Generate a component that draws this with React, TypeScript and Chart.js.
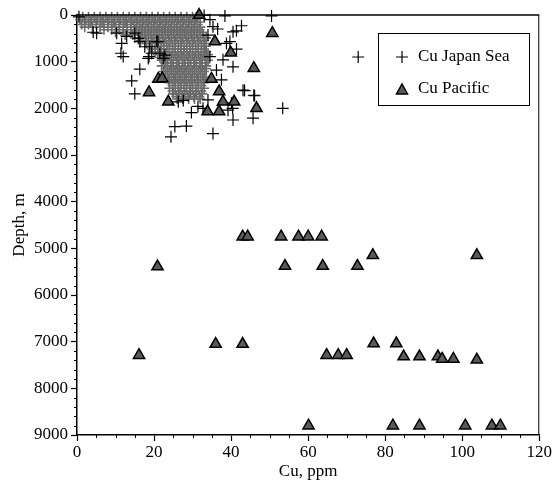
import React, { useEffect, useRef } from 'react';
import { Chart, registerables } from 'chart.js';
Chart.register(...registerables);

// Cu Pacific: [Cu ppm, depth m]
const pacificCu = [31.7, 50.7, 35.8, 39.9, 45.9, 21.1, 22.1, 34.9, 18.7, 36.9, 23.7, 37.9, 40.8, 33.9, 36.9, 46.6,
  43, 44.3, 53, 57.5, 60, 63.5,
  20.9, 54, 63.8, 72.8, 76.8, 103.8,
  36, 43, 77, 82.9, 16.1, 64.8, 67.8, 70, 84.8, 88.9, 93.7, 94.8, 97.7, 103.8,
  60.1, 82, 88.9, 100.8, 107.7, 109.9];
const pacificDepth = [0, 390, 570, 810, 1140, 1370, 1360, 1370, 1660, 1640, 1860, 1860, 1860, 2070, 2070, 2000,
  4750, 4750, 4750, 4750, 4750, 4750,
  5390, 5380, 5380, 5380, 5150, 5150,
  7050, 7050, 7040, 7040, 7290, 7290, 7290, 7290, 7320, 7320, 7320, 7370, 7370, 7390,
  8800, 8800, 8800, 8800, 8800, 8800];

// Cu Japan Sea, individually visible crosses
const japanCu = [0.5, 33, 38.4, 50.5, 34.5, 35.3, 36.5, 42.7, 41.4, 40.5, 34, 39.7, 38.8, 41.4, 37.9, 40.5,
  37.5, 43.5, 45.9, 40.1, 40.4, 39.2, 40.5, 45.7, 34, 29.7, 26.3, 27.6, 31.4, 32.7, 25.4, 28.4, 24.4, 35.3,
  14.2, 15, 16.3, 18.7, 18.5, 11.4, 12, 5.1, 4.2, 10.3, 12.9, 15, 11.6, 16.3, 15.9, 17.6, 19.4, 18.9, 20.7,
  21, 21.5, 22.8, 22.4, 34.5, 36.2, 43.1, 46.1, 73, 53.4];
const japanDepth = [40, 10, 20, 20, 100, 250, 300, 230, 340, 360, 430, 570, 610, 730, 960, 1110,
  1390, 1620, 1720, 1890, 2000, 2040, 2250, 2210, 1820, 2090, 1860, 1830, 1960, 2000, 2390, 2380, 2610, 2540,
  1410, 1690, 1160, 890, 930, 820, 890, 390, 370, 390, 460, 390, 610, 570, 500, 680, 820, 680, 570,
  570, 820, 860, 930, 890, 1180, 1610, 1730, 900, 2000];

// Cu Japan Sea, dense cluster (rows of depth with Cu values)
const japanDenseDepths = [40, 95, 150, 205, 260, 315, 370, 430, 490, 550, 610, 670, 730, 790, 850, 910, 970, 1030,
  1090, 1150, 1210, 1270, 1330, 1390, 1450, 1510, 1570, 1630, 1690, 1750, 1800];
const japanDenseCu = [
  [1.5, 3, 4.5, 6, 7.5, 9, 10.5, 12, 13.5, 15, 16.5, 18, 19.5, 21, 22.5, 24, 25.5, 27, 28.5, 30, 31],
  [0.8, 2.3, 3.8, 5.3, 6.8, 8.3, 9.8, 11.3, 12.8, 14.3, 15.8, 17.3, 18.8, 20.3, 21.8, 23.3, 24.8, 26.3, 27.8, 29.3, 30.8],
  [2, 3.5, 5, 6.5, 8, 9.5, 11, 12.5, 14, 15.5, 17, 18.5, 20, 21.5, 23, 24.5, 26, 27.5, 29, 30.5, 32],
  [1.2, 3, 5, 7, 9, 11, 13, 14.8, 16.3, 17.8, 19.3, 20.8, 22.3, 23.8, 25.3, 26.8, 28.3, 29.8, 31.3],
  [2, 4, 6, 8, 10, 12, 14, 15.5, 17, 18.5, 20, 21.5, 23, 24.5, 26, 27.5, 29, 30.5, 32],
  [7, 9, 11, 13, 15, 16.8, 18.3, 19.8, 21.3, 22.8, 24.3, 25.8, 27.3, 28.8, 30.3, 31.8],
  [10, 12, 14, 16, 17.5, 19, 20.5, 22, 23.5, 25, 26.5, 28, 29.5, 31, 32.5],
  [12.5, 14.5, 16.3, 17.8, 19.3, 20.8, 22.3, 23.8, 25.3, 26.8, 28.3, 29.8, 31.3, 32.8],
  [15, 17, 18.5, 20, 21.5, 23, 24.5, 26, 27.5, 29, 30.5, 32, 33.5],
  [16.5, 18, 19.5, 21, 22.5, 24, 25.5, 27, 28.5, 30, 31.5, 33],
  [18, 19.5, 21, 22.5, 24, 25.5, 27, 28.5, 30, 31.5, 33],
  [18.8, 20.3, 21.8, 23.3, 24.8, 26.3, 27.8, 29.3, 30.8, 32.3, 33.5],
  [19.5, 21, 22.5, 24, 25.5, 27, 28.5, 30, 31.5, 33],
  [20.3, 21.8, 23.3, 24.8, 26.3, 27.8, 29.3, 30.8, 32.3, 33.5],
  [21, 22.5, 24, 25.5, 27, 28.5, 30, 31.5, 33, 34],
  [21.5, 23, 24.5, 26, 27.5, 29, 30.5, 32, 33.5],
  [22, 23.5, 25, 26.5, 28, 29.5, 31, 32.5, 34],
  [22.8, 24.3, 25.8, 27.3, 28.8, 30.3, 31.8, 33.3],
  [22, 23.5, 25, 26.5, 28, 29.5, 31, 32.5, 33.5],
  [23, 24.5, 26, 27.5, 29, 30.5, 32, 33.5],
  [22.5, 24, 25.5, 27, 28.5, 30, 31.5, 33],
  [23.5, 25, 26.5, 28, 29.5, 31, 32.5],
  [23, 24.5, 26, 27.5, 29, 30.5, 32, 33.5],
  [23.8, 25.3, 26.8, 28.3, 29.8, 31.3, 32.8],
  [24, 25.5, 27, 28.5, 30, 31.5, 33],
  [24.8, 26.3, 27.8, 29.3, 30.8, 32.3],
  [24, 25.5, 27, 28.5, 30, 31.5, 33],
  [24.8, 26.3, 27.8, 29.3, 30.8, 32.3],
  [25, 26.5, 28, 29.5, 31, 32.5],
  [25.8, 27.3, 28.8, 30.3, 31.8],
  [26, 27.5, 29, 30.5, 32],
];

const xTicks = [0, 20, 40, 60, 80, 100, 120];
const yTicks = [0, 1000, 2000, 3000, 4000, 5000, 6000, 7000, 8000, 9000];
const legendLabels = ['Cu Japan Sea', 'Cu Pacific'];

const FONT = "'Liberation Serif', 'Times New Roman', serif";

const decor = {
  id: 'decor',
  afterDraw(chart: any) {
    const { ctx, chartArea: ca, scales } = chart;
    const xs = scales.x, ys = scales.y;
    ctx.save();
    ctx.strokeStyle = '#000';
    // top & right frame
    ctx.lineWidth = 1.5;
    ctx.beginPath();
    ctx.moveTo(ca.left, ca.top);
    ctx.lineTo(ca.right, ca.top);
    ctx.stroke();
    ctx.lineWidth = 1;
    ctx.beginPath();
    ctx.moveTo(ca.right - 0.5, ca.top);
    ctx.lineTo(ca.right - 0.5, ca.bottom);
    ctx.stroke();
    // minor ticks
    ctx.lineWidth = 1;
    ctx.beginPath();
    for (let v = 5; v < 120; v += 5) {
      if (v % 20 === 0) continue;
      const px = Math.round(xs.getPixelForValue(v)) + 0.5;
      ctx.moveTo(px, ca.bottom);
      ctx.lineTo(px, ca.bottom + 3);
    }
    for (let v = 200; v < 9000; v += 200) {
      if (v % 1000 === 0) continue;
      const py = Math.round(ys.getPixelForValue(v)) + 0.5;
      ctx.moveTo(ca.left, py);
      ctx.lineTo(ca.left - 3, py);
    }
    ctx.stroke();
    // legend
    const bx = 378, by = 33, bw = 151, bh = 72;
    ctx.fillStyle = '#fff';
    ctx.fillRect(bx, by, bw, bh);
    ctx.lineWidth = 1;
    ctx.strokeRect(bx + 0.5, by + 0.5, bw, bh);
    // cross
    ctx.lineWidth = 1.2;
    ctx.beginPath();
    ctx.moveTo(396, 57); ctx.lineTo(408, 57);
    ctx.moveTo(402, 51); ctx.lineTo(402, 63);
    ctx.stroke();
    // triangle
    ctx.fillStyle = '#5a5a5a';
    ctx.lineWidth = 1.5;
    ctx.beginPath();
    ctx.moveTo(402, 84); ctx.lineTo(407.5, 94); ctx.lineTo(396.5, 94); ctx.closePath();
    ctx.fill(); ctx.stroke();
    ctx.fillStyle = '#000';
    ctx.font = `17px ${FONT}`;
    ctx.textBaseline = 'middle';
    ctx.textAlign = 'left';
    ctx.fillText(legendLabels[0], 418, 57);
    ctx.fillText(legendLabels[1], 418, 89);
    ctx.restore();
  },
};

export default function App() {
  const ref = useRef<HTMLCanvasElement>(null);
  useEffect(() => {
    const dense: { x: number; y: number }[] = [];
    japanDenseDepths.forEach((d, i) => japanDenseCu[i].forEach((c) => dense.push({ x: c, y: d })));
    const chart = new Chart(ref.current!, {
      type: 'scatter',
      data: {
        datasets: [
          {
            label: 'Cu Pacific',
            data: pacificCu.map((c, i) => ({ x: c, y: pacificDepth[i] })),
            pointStyle: 'triangle',
            pointRadius: 6.5,
            backgroundColor: '#5a5a5a',
            borderColor: '#000',
            borderWidth: 1.5,
            clip: false as any,
          },
          {
            label: 'Cu Japan Sea',
            data: japanCu.map((c, i) => ({ x: c, y: japanDepth[i] })),
            pointStyle: 'cross',
            pointRadius: 6,
            borderColor: '#000',
            borderWidth: 1.2,
            clip: false as any,
          },
          {
            label: 'Cu Japan Sea dense',
            data: dense,
            pointStyle: 'cross',
            pointRadius: 5,
            borderColor: '#6a6a6a',
            borderWidth: 1.6,
            clip: false as any,
          },
        ],
      },
      options: {
        animation: false,
        responsive: false,
        layout: { padding: { top: 15, right: 13, left: 0, bottom: 0 } },
        plugins: { legend: { display: false }, tooltip: { enabled: false } },
        scales: {
          x: {
            type: 'linear',
            min: 0,
            max: 120,
            afterBuildTicks: (s: any) => { s.ticks = xTicks.map((v) => ({ value: v })); },
            afterFit: (s: any) => { s.height = 60; },
            grid: { drawOnChartArea: false, drawTicks: true, tickLength: 6, color: '#000', tickWidth: 1.2 },
            border: { display: true, color: '#000', width: 1.5 },
            ticks: { color: '#000', font: { family: FONT, size: 17 }, padding: 1, maxRotation: 0, callback: (v: any) => String(v) },
            title: { display: true, text: 'Cu, ppm', color: '#000', font: { family: FONT, size: 17 }, padding: { top: 0, bottom: 13 } },
          },
          y: {
            type: 'linear',
            min: 0,
            max: 9000,
            reverse: true,
            afterBuildTicks: (s: any) => { s.ticks = yTicks.map((v) => ({ value: v })); },
            afterFit: (s: any) => { s.width = 77; },
            grid: { drawOnChartArea: false, drawTicks: true, tickLength: 6, color: '#000', tickWidth: 1.2 },
            border: { display: true, color: '#000', width: 1.5 },
            ticks: { color: '#000', font: { family: FONT, size: 17 }, padding: 3, callback: (v: any) => String(v) },
            title: { display: true, text: 'Depth, m', color: '#000', font: { family: FONT, size: 17 }, padding: { top: 9, bottom: 0 } },
          },
        },
      },
      plugins: [decor],
    } as any);
    return () => chart.destroy();
  }, []);
  return (
    <div style={{ position: 'fixed', left: 0, top: 0, width: 553, height: 495, background: '#fff' }}>
      <canvas ref={ref} width={553} height={495} />
    </div>
  );
}
